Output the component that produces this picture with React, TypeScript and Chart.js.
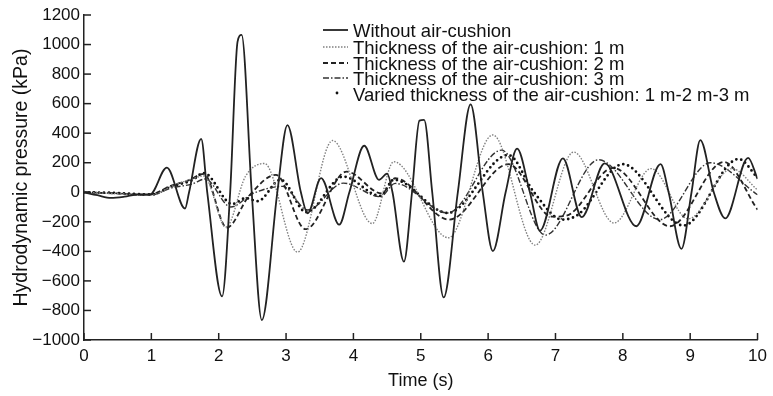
import React, { useEffect, useRef } from 'react';
import { Chart, registerables } from 'chart.js';

Chart.register(...registerables);

// ---- data ----
const xTickValues = [0, 1, 2, 3, 4, 5, 6, 7, 8, 9, 10];
const yTickValues = [-1000, -800, -600, -400, -200, 0, 200, 400, 600, 800, 1000, 1200];

const seriesLabels = [
  'Without air-cushion',
  'Thickness of the air-cushion: 1 m',
  'Thickness of the air-cushion: 2 m',
  'Thickness of the air-cushion: 3 m',
  'Varied thickness of the air-cushion: 1 m-2 m-3 m',
];

const noCushionTime = [0, 0.2, 0.4, 0.6, 0.8, 0.98, 1.23, 1.5, 1.56, 1.74, 1.83, 2.05, 2.17, 2.28, 2.34, 2.49, 2.64, 2.87, 3.02, 3.22, 3.32, 3.52, 3.79, 3.94, 4.16, 4.38, 4.5, 4.58, 4.75, 4.87, 4.98, 5.05, 5.17, 5.34, 5.55, 5.74, 5.92, 6.07, 6.26, 6.43, 6.62, 6.77, 7.11, 7.39, 7.73, 8.2, 8.56, 8.68, 8.87, 9.02, 9.15, 9.35, 9.52, 9.86, 10];
const noCushionPressure = [0, -20, -38, -30, -15, -15, 167, -110, 0, 362, 0, -705, 0, 1020, 1065, 0, -865, 0, 455, 0, -142, 96, -219, 0, 315, 84, 126, 0, -470, 0, 485, 490, 0, -712, 0, 595, 0, -398, 0, 295, 0, -260, 230, -168, 195, -230, 190, 0, -383, 0, 353, 0, -177, 233, 90];

const oneMeterTime = [0, 0.5, 1.0, 1.3, 1.6, 1.78, 2.11, 2.4, 2.68, 3.17, 3.69, 4.28, 4.6, 5.41, 6.07, 6.7, 7.27, 7.87, 8.42, 8.97, 9.62, 10];
const oneMeterPressure = [0, -10, -20, 40, 90, 110, -235, 110, 195, -405, 350, -212, 207, -308, 388, -358, 272, -208, 160, -180, 160, 15];

const twoMeterTime = [0, 0.5, 0.95, 1.3, 1.55, 1.78, 2.12, 2.45, 2.85, 3.29, 3.9, 4.42, 4.62, 5.42, 6.3, 6.95, 7.15, 7.86, 8.7, 9.5, 10];
const twoMeterPressure = [0, -8, -18, 45, 80, 125, -240, -25, 118, -250, 140, -8, 95, -185, 190, -165, -160, 165, -230, 205, -118];

const threeMeterTime = [0, 0.5, 1.0, 1.3, 1.6, 1.8, 2.18, 2.5, 2.95, 3.32, 3.85, 4.4, 4.62, 5.4, 6.2, 6.85, 7.64, 8.55, 9.3, 10];
const threeMeterPressure = [0, -8, -18, 30, 55, 90, -100, -10, 40, -120, 62, -30, 60, -140, 285, -290, 220, -185, 200, -17];

const variedTime = [0, 0.5, 1.0, 1.3, 1.6, 1.78, 2.2, 2.4, 2.58, 2.92, 3.3, 3.85, 4.4, 4.6, 5.4, 6.3, 6.68, 7.1, 7.34, 8.0, 8.9, 9.72, 10];
const variedPressure = [0, -5, -15, 40, 80, 130, -80, -40, -60, 85, -135, 106, -25, 85, -140, 252, 0, -185, -150, 190, -225, 225, 98];

const FONT = '"Liberation Sans", Arial, Helvetica, sans-serif';

const toPoints = (t: number[], v: number[]) => t.map((x, i) => ({ x, y: v[i] }));

const legendPlugin = {
  id: 'insetLegend',
  afterDatasetsDraw(chart: any) {
    const ctx = chart.ctx as CanvasRenderingContext2D;
    const rowY = [32, 49, 65, 80, 96];
    chart.data.datasets.forEach((ds: any, i: number) => {
      const y = rowY[i];
      ctx.save();
      ctx.strokeStyle = ds.borderColor;
      ctx.lineWidth = ds.borderWidth;
      ctx.setLineDash(ds.borderDash || []);
      ctx.lineCap = ds.borderCapStyle || 'butt';
      ctx.beginPath();
      if (i === 4) {
        ctx.moveTo(337, y - 3);
        ctx.lineTo(337.01, y - 3);
      } else {
        ctx.moveTo(323, y - 2);
        ctx.lineTo(348, y - 2);
      }
      ctx.stroke();
      ctx.setLineDash([]);
      ctx.fillStyle = '#111';
      ctx.font = `18.5px ${FONT}`;
      ctx.textBaseline = 'middle';
      ctx.textAlign = 'left';
      ctx.fillText(ds.label, 353, y);
      ctx.restore();
    });
  },
};

const innerTicksPlugin = {
  id: 'innerTicks',
  afterDraw(chart: any) {
    const { ctx, chartArea, scales } = chart;
    const xs = scales.x;
    const ys = scales.y;
    ctx.save();
    ctx.strokeStyle = '#222';
    ctx.lineWidth = 1.5;
    xs.ticks.forEach((t: any) => {
      const px = xs.getPixelForValue(t.value);
      ctx.beginPath();
      ctx.moveTo(px, chartArea.bottom);
      ctx.lineTo(px, chartArea.bottom - 7);
      ctx.stroke();
    });
    ys.ticks.forEach((t: any) => {
      const py = ys.getPixelForValue(t.value);
      ctx.beginPath();
      ctx.moveTo(chartArea.left, py);
      ctx.lineTo(chartArea.left + 7, py);
      ctx.stroke();
    });
    ctx.restore();
  },
};

export default function App() {
  const canvasRef = useRef<HTMLCanvasElement | null>(null);

  useEffect(() => {
    if (!canvasRef.current) return;
    const common = {
      fill: false,
      pointRadius: 0,
      pointHoverRadius: 0,
      cubicInterpolationMode: 'monotone' as const,
    };
    const chart = new Chart(canvasRef.current, {
      type: 'line',
      data: {
        datasets: [
          {
            ...common,
            label: seriesLabels[0],
            data: toPoints(noCushionTime, noCushionPressure),
            borderColor: '#222',
            borderWidth: 1.8,
            borderDash: [],
            borderJoinStyle: 'round',
          },
          {
            ...common,
            label: seriesLabels[1],
            data: toPoints(oneMeterTime, oneMeterPressure),
            borderColor: '#808080',
            borderWidth: 1.4,
            borderDash: [1.5, 1.5],
          },
          {
            ...common,
            label: seriesLabels[2],
            data: toPoints(twoMeterTime, twoMeterPressure),
            borderColor: '#222',
            borderWidth: 1.8,
            borderDash: [5, 3],
          },
          {
            ...common,
            label: seriesLabels[3],
            data: toPoints(threeMeterTime, threeMeterPressure),
            borderColor: '#333',
            borderWidth: 1.4,
            borderDash: [6, 2, 1.5, 2],
          },
          {
            ...common,
            label: seriesLabels[4],
            data: toPoints(variedTime, variedPressure),
            borderColor: '#111',
            borderWidth: 2.8,
            borderDash: [0, 5],
            borderCapStyle: 'round',
          },
        ],
      },
      options: {
        animation: false,
        responsive: false,
        devicePixelRatio: 1,
        events: [],
        layout: { padding: { top: 15, right: 13, left: 0, bottom: 0 } },
        plugins: {
          legend: { display: false },
          tooltip: { enabled: false },
        },
        scales: {
          x: {
            type: 'linear',
            min: 0,
            max: 10,
            afterBuildTicks: (s: any) => {
              s.ticks = xTickValues.map((value) => ({ value }));
            },
            afterFit: (s: any) => {
              s.height = 56;
            },
            grid: { display: true, drawOnChartArea: false, drawTicks: false },
            border: { display: true, color: '#222', width: 1.5 },
            ticks: {
              color: '#111',
              font: { family: FONT, size: 17 },
              padding: 6,
              maxRotation: 0,
              autoSkip: false,
            },
            title: {
              display: true,
              text: 'Time (s)',
              color: '#111',
              font: { family: FONT, size: 18 },
              padding: { top: 0, bottom: 4 },
            },
          },
          y: {
            type: 'linear',
            min: -1000,
            max: 1200,
            afterBuildTicks: (s: any) => {
              s.ticks = yTickValues.map((value) => ({ value }));
            },
            afterFit: (s: any) => {
              s.width = 84;
            },
            grid: { display: true, drawOnChartArea: false, drawTicks: false },
            border: { display: true, color: '#222', width: 1.5 },
            ticks: {
              color: '#111',
              font: { family: FONT, size: 17 },
              padding: 4,
              autoSkip: false,
              callback: (v: any) => (Number(v) < 0 ? '\u2212' + Math.abs(Number(v)) : String(v)),
            },
            title: {
              display: true,
              text: 'Hydrodynamic pressure (kPa)',
              color: '#111',
              font: { family: FONT, size: 19.5 },
              padding: { top: 10, bottom: 0 },
            },
          },
        },
      },
      plugins: [legendPlugin, innerTicksPlugin],
    });
    return () => chart.destroy();
  }, []);

  return (
    <div style={{ position: 'fixed', left: 0, top: 0, width: 773, height: 396, background: '#fff' }}>
      <canvas ref={canvasRef} width={773} height={396} style={{ display: 'block', width: 773, height: 396 }} />
    </div>
  );
}
